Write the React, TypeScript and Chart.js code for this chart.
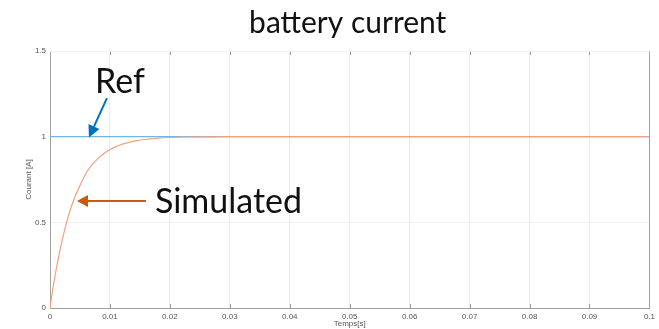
import React, { useEffect, useRef } from "react";
import { Chart, registerables } from "chart.js";

Chart.register(...registerables);

const chartTitle = "battery current";
const xTitle = "Temps[s]";
const yTitle = "Courant [A]";

const simTime = [0, 0.0005, 0.001, 0.0015, 0.002, 0.003, 0.004, 0.005, 0.006, 0.007, 0.008, 0.009, 0.01, 0.011, 0.012, 0.013, 0.014, 0.016, 0.018, 0.02, 0.023, 0.026, 0.03, 0.1];
const simCurrent = [0, 0.118, 0.22, 0.31, 0.39, 0.53, 0.635, 0.715, 0.785, 0.835, 0.872, 0.902, 0.925, 0.942, 0.955, 0.965, 0.974, 0.985, 0.991, 0.995, 0.998, 0.999, 1.0, 1.0];
const refTime = [0, 0.1];
const refCurrent = [1, 1];

// annotation anchors in data units
const refLabel = { text: "Ref", t: 0.0075, v: 1.255 };
const refArrow = { fromT: 0.0095, fromV: 1.225, toT: 0.0065, toV: 0.995 };
const simLabel = { text: "Simulated", t: 0.0175, v: 0.625 };
const simArrow = { fromT: 0.016, fromV: 0.625, toT: 0.0045, toV: 0.625 };

function drawArrow(ctx: CanvasRenderingContext2D, x1: number, y1: number, x2: number, y2: number, color: string, width: number, headLen: number, headW: number) {
  const ang = Math.atan2(y2 - y1, x2 - x1);
  const bx = x2 - headLen * Math.cos(ang);
  const by = y2 - headLen * Math.sin(ang);
  ctx.save();
  ctx.strokeStyle = color;
  ctx.fillStyle = color;
  ctx.lineWidth = width;
  ctx.beginPath();
  ctx.moveTo(x1, y1);
  ctx.lineTo(bx, by);
  ctx.stroke();
  ctx.beginPath();
  ctx.moveTo(x2, y2);
  ctx.lineTo(bx + headW * Math.sin(ang), by - headW * Math.cos(ang));
  ctx.lineTo(bx - headW * Math.sin(ang), by + headW * Math.cos(ang));
  ctx.closePath();
  ctx.fill();
  ctx.restore();
}

const decorPlugin = {
  id: "decor",
  beforeDatasetsDraw(chart: any) {
    const { ctx, chartArea: a, scales } = chart;
    const xs = scales.x;
    ctx.save();
    ctx.strokeStyle = "#9a9a9a";
    ctx.lineWidth = 1;
    xs.ticks.forEach((tk: any) => {
      const px = Math.round(xs.getPixelForValue(tk.value)) + 0.5;
      ctx.beginPath();
      ctx.moveTo(px, a.bottom);
      ctx.lineTo(px, a.bottom - 4);
      ctx.moveTo(px, a.top);
      ctx.lineTo(px, a.top + 4);
      ctx.stroke();
    });
    ctx.strokeStyle = "#a0a0a0";
    ctx.beginPath();
    ctx.moveTo(Math.round(a.left) + 0.5, a.top);
    ctx.lineTo(Math.round(a.left) + 0.5, Math.round(a.bottom) + 0.5);
    ctx.lineTo(Math.round(a.right) + 0.5, Math.round(a.bottom) + 0.5);
    ctx.lineTo(Math.round(a.right) + 0.5, a.top);
    ctx.stroke();
    ctx.strokeStyle = "#eeeeee";
    ctx.beginPath();
    ctx.moveTo(a.left, Math.round(a.top) + 0.5);
    ctx.lineTo(a.right, Math.round(a.top) + 0.5);
    ctx.stroke();
    ctx.restore();
  },
  afterDraw(chart: any) {
    const { ctx, chartArea: a, scales } = chart;
    const xs = scales.x;
    const ys = scales.y;
    const X = (t: number) => xs.getPixelForValue(t);
    const Y = (v: number) => ys.getPixelForValue(v);
    ctx.save();
    // title
    ctx.fillStyle = "#111111";
    ctx.font = "30px Lato, 'Open Sans', sans-serif";
    ctx.textAlign = "center";
    ctx.textBaseline = "alphabetic";
    ctx.fillText(chartTitle, (a.left + a.right) / 2 - 2, 33);
    // y title
    ctx.save();
    ctx.fillStyle = "#555555";
    ctx.font = "8px 'Liberation Sans', Arial, sans-serif";
    ctx.textBaseline = "middle";
    ctx.translate(29, (a.top + a.bottom) / 2);
    ctx.rotate(-Math.PI / 2);
    ctx.fillText(yTitle, 0, 0);
    ctx.restore();
    // annotations
    ctx.fillStyle = "#111111";
    ctx.font = "34px Lato, 'Open Sans', sans-serif";
    ctx.textAlign = "left";
    ctx.fillText(refLabel.text, X(refLabel.t), Y(refLabel.v));
    ctx.fillText(simLabel.text, X(simLabel.t), Y(simLabel.v) + 12);
    drawArrow(ctx, X(refArrow.fromT), Y(refArrow.fromV), X(refArrow.toT), Y(refArrow.toV), "#0070c0", 2, 12, 6);
    drawArrow(ctx, X(simArrow.fromT), Y(simArrow.fromV), X(simArrow.toT), Y(simArrow.toV), "#c55a11", 2, 11, 6);
    ctx.restore();
  },
};

export default function App() {
  const ref = useRef<HTMLCanvasElement | null>(null);
  useEffect(() => {
    if (!ref.current) return;
    const chart = new Chart(ref.current, {
      type: "scatter",
      data: {
        datasets: [
          {
            label: "Simulated",
            data: simTime.map((t, i) => ({ x: t, y: simCurrent[i] })),
            showLine: true,
            borderColor: "#f2a07e",
            borderWidth: 1.2,
            pointRadius: 0,
            cubicInterpolationMode: "monotone",
          },
          {
            label: "Ref",
            data: refTime.map((t, i) => ({ x: t, y: refCurrent[i] })),
            showLine: true,
            borderColor: "#6fb6e6",
            borderWidth: 1.2,
            pointRadius: 0,
          },
        ],
      },
      options: {
        animation: false,
        responsive: false,
        maintainAspectRatio: false,
        layout: { padding: { top: 51, right: 8, left: 0, bottom: 0 } },
        plugins: { legend: { display: false }, tooltip: { enabled: false }, title: { display: false } },
        scales: {
          x: {
            type: "linear",
            min: 0,
            max: 0.1,
            border: { display: false },
            grid: { color: "#ececec", drawTicks: false },
            ticks: {
              stepSize: 0.01,
              padding: 4,
              maxRotation: 0,
              color: "#555555",
              font: { family: "'Liberation Sans', Arial, sans-serif", size: 8 },
              callback: (v: any) => String(Math.round(Number(v) * 100) / 100),
            },
            title: {
              display: true,
              text: xTitle,
              color: "#555555",
              font: { family: "'Liberation Sans', Arial, sans-serif", size: 8 },
              padding: { top: 0, bottom: 0 },
            },
            afterFit: (s: any) => {
              s.height = 21;
            },
          },
          y: {
            min: 0,
            max: 1.5,
            border: { display: false },
            grid: { color: "#f0f0f0", drawTicks: false },
            ticks: {
              stepSize: 0.5,
              padding: 4,
              color: "#555555",
              font: { family: "'Liberation Sans', Arial, sans-serif", size: 8 },
              callback: (v: any) => String(Math.round(Number(v) * 10) / 10),
            },
            title: { display: false },
            afterFit: (s: any) => {
              s.width = 50;
            },
          },
        },
      },
      plugins: [decorPlugin],
    } as any);
    return () => chart.destroy();
  }, []);
  return (
    <div style={{ position: "fixed", left: 0, top: 0, width: 659, height: 329, background: "#ffffff" }}>
      <canvas ref={ref} width={659} height={329} style={{ width: 659, height: 329 }} />
    </div>
  );
}
